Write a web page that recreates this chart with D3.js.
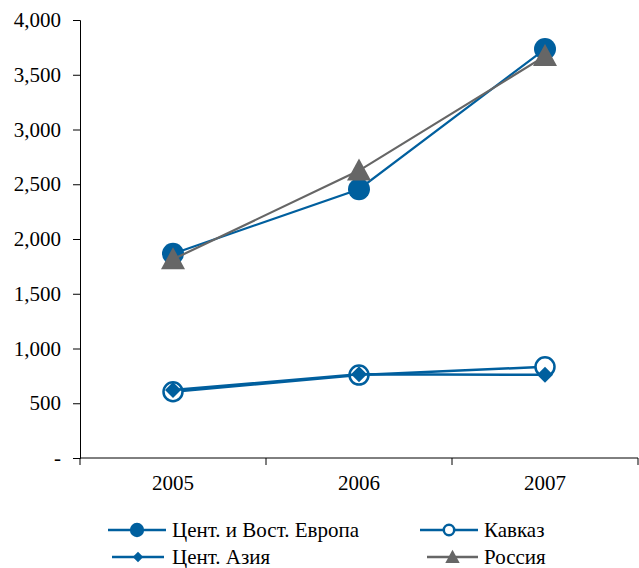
<!DOCTYPE html>
<html>
<head>
<meta charset="utf-8">
<script src="https://cdn.jsdelivr.net/npm/d3@7"></script>
</head>
<body style="margin:0">
<svg id="fig" width="639" height="568"></svg>
<script>
// Years and values per region
const years = ["2005", "2006", "2007"];
const europe = [1865, 2455, 3735];
const caucasus = [605, 757, 833];
const centralAsia = [620, 764, 760];
const russia = [1815, 2625, 3670];
const yTicks = [0, 500, 1000, 1500, 2000, 2500, 3000, 3500, 4000];

const BLUE = "#005f9e";
const GRAY = "#666666";
const FONT = '"Liberation Serif", "Times New Roman", Tinos, serif';
const FS = "21px";

const series = [
  { name: "Цент. и Вост. Европа", values: europe, color: BLUE, marker: "circle" },
  { name: "Кавказ", values: caucasus, color: BLUE, marker: "ring" },
  { name: "Цент. Азия", values: centralAsia, color: BLUE, marker: "diamond" },
  { name: "Россия", values: russia, color: GRAY, marker: "triangle" }
];

const svg = d3.select("#fig");
const plotLeft = 80, plotRight = 638, plotTop = 20, plotBottom = 458;

const x = d3.scaleBand().domain(years).range([plotLeft, plotRight]);
const y = d3.scaleLinear().domain([0, 4000]).range([plotBottom, plotTop]);

// Serif labels, set inline so nothing else overrides them
function styleText(sel) {
  sel.style("font-family", FONT, "important")
    .style("font-size", FS, "important")
    .attr("fill", "#000");
}

// Y axis
const yAxis = d3.axisLeft(y).tickValues(yTicks).tickSize(7).tickPadding(12)
  .tickFormat(d => d === 0 ? "-" : d3.format(",")(d));
const gy = svg.append("g").attr("transform", `translate(${plotLeft},0)`).call(yAxis);
gy.attr("font-family", null).attr("font-size", null);
gy.select(".domain").attr("stroke", "#000");
gy.selectAll(".tick line").attr("stroke", "#000");
gy.selectAll(".tick text").call(styleText);

// X axis with ticks between categories
const gx = svg.append("g").attr("transform", `translate(0,${plotBottom})`);
gx.append("line").attr("x1", plotLeft).attr("x2", plotRight).attr("stroke", "#000");
const bounds = years.map(d => x(d)).concat([plotRight]);
gx.selectAll("line.sep").data(bounds).join("line").attr("class", "sep")
  .attr("x1", d => d).attr("x2", d => d).attr("y1", 0).attr("y2", 7).attr("stroke", "#000");
gx.selectAll("text").data(years).join("text")
  .attr("x", d => x(d) + x.bandwidth() / 2).attr("y", 32)
  .attr("text-anchor", "middle").call(styleText).text(d => d);

const cx = d => x(d) + x.bandwidth() / 2;

function drawMarker(g, type, color, px, py, s) {
  if (type === "circle") {
    g.append("circle").attr("cx", px).attr("cy", py).attr("r", 11 * s).attr("fill", color);
  } else if (type === "ring") {
    g.append("circle").attr("cx", px).attr("cy", py).attr("r", 9.5 * s)
      .attr("fill", "#fff").attr("stroke", color).attr("stroke-width", 2.5);
  } else if (type === "diamond") {
    const r = 8 * s;
    g.append("path").attr("d", `M${px},${py - r}L${px + r},${py}L${px},${py + r}L${px - r},${py}Z`).attr("fill", color);
  } else if (type === "triangle") {
    const w = 12 * s, h = 22 * s;
    g.append("path").attr("d", `M${px},${py - h * 0.55}L${px + w},${py + h * 0.45}L${px - w},${py + h * 0.45}Z`).attr("fill", color);
  }
}

const line = d3.line().x(d => cx(d.year)).y(d => y(d.value));

// Draw order: Europe, Russia, then the low group
const order = [series[0], series[3], series[1], series[2]];
order.forEach(s => {
  const pts = years.map((yr, i) => ({ year: yr, value: s.values[i] }));
  const g = svg.append("g");
  g.append("path").datum(pts).attr("d", line).attr("fill", "none")
    .attr("stroke", s.color).attr("stroke-width", s.marker === "ring" || s.marker === "diamond" ? 2.5 : 2.2);
  pts.forEach(p => drawMarker(g, s.marker, s.color, cx(p.year), y(p.value), 1));
});

// Legend
const legend = [
  { s: series[0], x1: 108, x2: 166, tx: 172, ly: 530 },
  { s: series[1], x1: 420, x2: 478, tx: 484, ly: 530 },
  { s: series[2], x1: 112, x2: 164, tx: 172, ly: 557 },
  { s: series[3], x1: 427, x2: 478, tx: 484, ly: 557 }
];
const lg = svg.append("g");
legend.forEach(l => {
  lg.append("line").attr("x1", l.x1).attr("x2", l.x2).attr("y1", l.ly).attr("y2", l.ly)
    .attr("stroke", l.s.color).attr("stroke-width", 2.5);
  const mx = (l.x1 + l.x2) / 2;
  const sc = l.s.marker === "ring" ? 0.55 : (l.s.marker === "triangle" ? 0.6 : 0.65);
  drawMarker(lg, l.s.marker, l.s.color, mx, l.ly, sc);
  lg.append("text").attr("x", l.tx).attr("y", l.ly + 7).call(styleText).text(l.s.name);
});
</script>
</body>
</html>
